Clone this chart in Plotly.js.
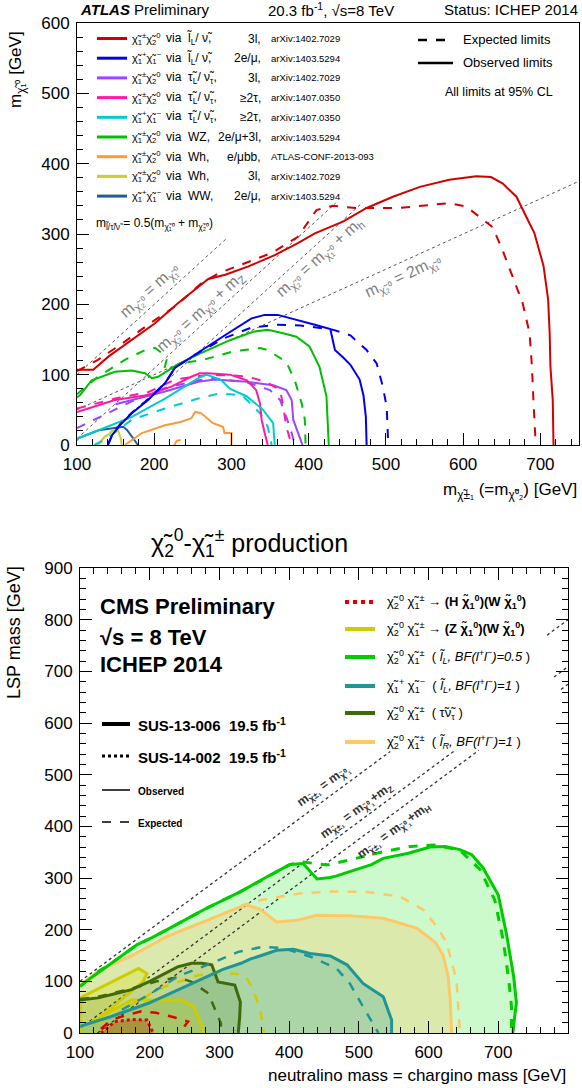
<!DOCTYPE html>
<html><head><meta charset="utf-8">
<script src="https://cdn.plot.ly/plotly-3.0.1.min.js"></script>
<style>body{margin:0;background:#fff}#plot{width:582px;height:1088px}</style>
</head><body><div id="plot"></div><script>
// ---------------- ATLAS data (GeV) ----------------
const atlas_red_obs_x = [100,121,141,171,201,231,257,270,292,322,356,386,408,445,475,509,544,582,617,636,651,669,686,692,704,710,712,713,716,717];
const atlas_red_obs_y = [107,107,126,149,173,202,225,236,242,254,270,287,301,318,337,353,367,377,382,381,372,353,315,302,255,207,160,112,64,0];
const atlas_red_exp_x = [100,127,162,192,227,261,283,317,352,386,400,410,431,461,518,582,604,621,638,651,664,677,686,689,691,693,694];
const atlas_red_exp_y = [105,121,147,171,197,230,244,258,273,296,318,334,340,337,337,344,339,325,310,277,239,202,159,112,64,20,0];
const atlas_blue_obs_x = [140,146,158,171,192,214,227,257,290,326,343,360,386,408,428,434,445,454,466,471,474,475];
const atlas_blue_obs_y = [0,15,31,45,64,88,110,132,155,180,185,185,178,171,165,135,124,114,93,70,40,0];
const atlas_blue_exp_x = [140,146,158,171,192,214,227,257,291,326,360,389,431,454,475,488,496,501,503];
const atlas_blue_exp_y = [0,16,32,46,65,88,110,131,152,167,171,170,164,156,135,116,83,54,0];
const atlas_green_obs_x = [100,104,119,149,171,188,197,205,222,233,259,298,328,347,367,384,401,414,423,426];
const atlas_green_obs_y = [68,71,92,104,106,102,95,97,109,116,130,149,161,164,159,154,140,111,69,0];
const atlas_green_exp_x = [100,104,127,162,188,201,211,216,213,222,233,263,302,337,347,371,382,391,395,396];
const atlas_green_exp_y = [72,76,97,121,135,138,130,121,108,106,116,121,133,138,135,118,92,59,36,0];
const atlas_pink_obs_x = [100,149,192,222,248,259,270,298,320,332,337,339,343,347];
const atlas_pink_obs_y = [47,64,71,83,97,102,102,100,92,78,59,36,17,0];
const atlas_pink_exp_x = [100,149,192,227,270,300,321,345,363,367,371,378];
const atlas_pink_exp_y = [52,66,75,93,100,99,97,90,78,55,26,0];
const atlas_purple_obs_x = [150,171,214,257,278,320,354,371,378,380,386,392];
const atlas_purple_obs_y = [58,64,76,90,93,90,85,78,64,36,17,0];
const atlas_purple_exp_x = [100,127,149,171,214,257,276,320,350,363,371,378,382];
const atlas_purple_exp_y = [24,38,50,62,81,92,95,89,78,64,40,17,0];
const atlas_cyan_obs_x = [100,102,128,171,214,257,268,287,298,320,341,354,356];
const atlas_cyan_obs_y = [7,10,21,40,66,95,100,92,80,69,50,31,0];
const atlas_cyan_exp_x = [122,136,171,214,257,283,298,313,320,337,347,352];
const atlas_cyan_exp_y = [0,7,36,52,66,73,72,71,64,45,26,0];
const atlas_orange_obs_x = [162,184,214,235,248,253,261,276,289,291,300,300];
const atlas_orange_obs_y = [0,17,28,33,38,47,45,31,26,17,17,0];
const atlas_orange_exp_x = [226,229,238,241];
const atlas_orange_exp_y = [0,6,8,3];
const atlas_yellow_obs_x = [127,136,142,147,153,156,158];
const atlas_yellow_obs_y = [0,12,16,21,21,12,0];
const atlas_ww_obs_x = [100,102,128,145,160,165,171,179];
const atlas_ww_obs_y = [7,10,21,24,26,21,12,0];
// kinematic lines: offset (GeV), slope factor, x-range
const atlas_diag_x0 = [100,100,125,100];
const atlas_diag_x1 = [295,435,470,750];
const atlas_diag_off = [0,91,125,0];
const atlas_diag_scale = [1,1,1,0.5];

const atlas_leg_proc = ['χ̃<sub>1</sub><sup>±</sup>χ̃<sub>2</sub><sup>0</sup>','χ̃<sub>1</sub><sup>+</sup>χ̃<sub>1</sub><sup>−</sup>','χ̃<sub>1</sub><sup>±</sup>χ̃<sub>2</sub><sup>0</sup>','χ̃<sub>1</sub><sup>±</sup>χ̃<sub>2</sub><sup>0</sup>','χ̃<sub>1</sub><sup>+</sup>χ̃<sub>1</sub><sup>−</sup>','χ̃<sub>1</sub><sup>±</sup>χ̃<sub>2</sub><sup>0</sup>','χ̃<sub>1</sub><sup>±</sup>χ̃<sub>2</sub><sup>0</sup>','χ̃<sub>1</sub><sup>±</sup>χ̃<sub>2</sub><sup>0</sup>','χ̃<sub>1</sub><sup>+</sup>χ̃<sub>1</sub><sup>−</sup>'];
const atlas_leg_via = ['via  l̃<sub>L</sub>/ ν̃,','via  l̃<sub>L</sub>/ ν̃,','via  τ̃<sub>L</sub>/ ν̃<sub>τ</sub>,','via  τ̃<sub>L</sub>/ ν̃<sub>τ</sub>,','via  τ̃<sub>L</sub>/ ν̃<sub>τ</sub>,','via  WZ,','via  Wh,','via  Wh,','via  WW,'];
const atlas_leg_final = ['3l,','2e/μ,','3l,','≥2τ,','≥2τ,','2e/μ+3l,','e/μbb,','3l,','2e/μ,'];
const atlas_leg_ref = ['arXiv:1402.7029','arXiv:1403.5294','arXiv:1402.7029','arXiv:1407.0350','arXiv:1407.0350','arXiv:1403.5294','ATLAS-CONF-2013-093','arXiv:1402.7029','arXiv:1403.5294'];
const atlas_colors = ['#d40000','#0000f0','#9b45ff','#ff1aa3','#00cccc','#00c000','#ff9933','#cccc33','#1f5f96'];

// ---------------- CMS data (GeV) ----------------
const cms_green_obs_x = [100,119,145,182,198,225,278,331,369,401,420,440,459,468,518,535,571,602,624,645,662,678,700,712,722,726,723,721];
const cms_green_obs_y = [90,110,135,171,181,200,239,274,303,326,328,298,301,304,326,338,348,360,361,355,345,320,267,190,110,58,26,0];
const cms_green_exp_x = [125,145,182,198,225,278,331,369,401,420,454,487,535,574,607,645,674,695,707,715,719,719];
const cms_green_exp_y = [118,135,171,181,200,239,274,303,326,331,325,335,351,361,364,354,316,257,180,103,51,0];
const cms_orange_obs_x = [100,129,172,225,284,337,358,382,411,440,487,535,583,610,621,628,631,633];
const cms_orange_obs_y = [93,122,148,187,219,248,240,215,218,228,227,222,203,175,150,110,64,0];
const cms_orange_exp_x = [100,129,172,225,284,337,358,416,460,511,559,593,615,626,640,645];
const cms_orange_exp_y = [93,122,148,187,219,249,257,270,274,273,264,238,200,174,103,0];
const cms_teal_obs_x = [100,145,199,252,305,331,344,358,382,406,430,459,483,506,535,547,547];
const cms_teal_obs_y = [13,32,58,90,123,135,143,149,160,162,154,149,132,96,70,25,0];
const cms_teal_exp_x = [160,200,241,294,327,363,392,430,468,487,506,528];
const cms_teal_exp_y = [45,75,110,138,157,167,164,148,125,96,51,0];
const cms_olive_obs_x = [100,126,150,174,200,222,240,260,275,289,294,298,322,330,329,327];
const cms_olive_obs_y = [64,68,76,84,100,115,128,135,135,132,115,99,93,60,30,0];
const cms_olive_exp_x = [100,126,174,210,240,260,284,294,302,303];
const cms_olive_exp_y = [66,70,86,100,108,99,77,45,19,0];
const cms_yellow_obs_x = [279,263,246,174,117,126,150,190,196,184,100,100];
const cms_yellow_obs_y = [0,51,64,64,22,28,54,99,115,125,68,0];
const cms_yellow_exp_x = [125,150,193,222,270,303,330,339,349,358,363,364];
const cms_yellow_exp_y = [18,35,70,90,112,116,114,106,83,45,12,0];
const cms_red_obs_x = [130,133,141,150,174,196,203,205];
const cms_red_obs_y = [0,3,12,22,26,25,6,0];
const cms_red_exp_x = [130,145,160,188,209,236,255,248,246];
const cms_red_exp_y = [8,25,32,42,39,30,22,10,0];
const cms_diag_off = [0,91,125];
const cms_diag_x0 = [100,100,125];
const cms_diag_x1 = [545,639,672];
const cms_diag_x2 = [770,780,790];

const cms_leg_text = [
 'χ̃<sub>2</sub><sup>0</sup> χ̃<sub>1</sub><sup>±</sup> <b>→ (H χ̃<sub>1</sub><sup>0</sup>)(W χ̃<sub>1</sub><sup>0</sup>)</b>',
 'χ̃<sub>2</sub><sup>0</sup> χ̃<sub>1</sub><sup>±</sup> <b>→ (Z χ̃<sub>1</sub><sup>0</sup>)(W χ̃<sub>1</sub><sup>0</sup>)</b>',
 'χ̃<sub>2</sub><sup>0</sup> χ̃<sub>1</sub><sup>±</sup>  ( <i>l̃<sub>L</sub>, BF(l<sup>+</sup>l<sup>−</sup>)=0.5</i> )',
 'χ̃<sub>1</sub><sup>+</sup> χ̃<sub>1</sub><sup>−</sup>  ( <i>l̃<sub>L</sub>, BF(l<sup>+</sup>l<sup>−</sup>)=1</i> )',
 'χ̃<sub>2</sub><sup>0</sup> χ̃<sub>1</sub><sup>±</sup>  ( τ̃ν̃<sub>τ</sub> )',
 'χ̃<sub>2</sub><sup>0</sup> χ̃<sub>1</sub><sup>±</sup>  ( <i>l̃<sub>R</sub>, BF(l<sup>+</sup>l<sup>−</sup>)=1</i> )'];
const cms_colors = {red:'#e00000', yellow:'#cccc00', green:'#00cc00', teal:'#1f9595', olive:'#3f6a0a', orange:'#ffc866'};

// ---------------- build ----------------
const W=582, H=1088, F='Liberation Sans, Arial, sans-serif';
const PX=v=>v/W, PY=v=>1-v/H;
const traces=[];
function line(x,y,color,width,dash,ax){
  traces.push({x:x,y:y,xaxis:ax[0],yaxis:ax[1],mode:'lines',line:{color:color,width:width,dash:dash||'solid'},hoverinfo:'skip',showlegend:false,cliponaxis:true});
}
function fillArea(x,y,color,ax){
  traces.push({x:x,y:y,xaxis:ax[0],yaxis:ax[1],mode:'none',fill:'tozeroy',fillcolor:color,hoverinfo:'skip',showlegend:false});
}
const A1=['x','y'], A2=['x2','y2'];
for(let i=0;i<atlas_diag_off.length;i++){
  const xs=[atlas_diag_x0[i],atlas_diag_x1[i]];
  line(xs, xs.map(v=>(v-atlas_diag_off[i])*atlas_diag_scale[i]), '#555', 1, 'dot', A1);
}
const C=atlas_colors;
line(atlas_ww_obs_x,atlas_ww_obs_y,C[8],2,'solid',A1);
line(atlas_yellow_obs_x,atlas_yellow_obs_y,C[7],2,'solid',A1);
line(atlas_orange_exp_x,atlas_orange_exp_y,C[6],2,'dash',A1);
line(atlas_orange_obs_x,atlas_orange_obs_y,C[6],2,'solid',A1);
line(atlas_cyan_exp_x,atlas_cyan_exp_y,C[4],2,'dash',A1);
line(atlas_purple_exp_x,atlas_purple_exp_y,C[2],2,'dash',A1);
line(atlas_purple_obs_x,atlas_purple_obs_y,C[2],2,'solid',A1);
line(atlas_pink_exp_x,atlas_pink_exp_y,C[3],2,'dash',A1);
line(atlas_pink_obs_x,atlas_pink_obs_y,C[3],2,'solid',A1);
line(atlas_cyan_obs_x,atlas_cyan_obs_y,C[4],2,'solid',A1);
line(atlas_green_exp_x,atlas_green_exp_y,C[5],2,'dash',A1);
line(atlas_green_obs_x,atlas_green_obs_y,C[5],2,'solid',A1);
line(atlas_blue_exp_x,atlas_blue_exp_y,C[1],2,'dash',A1);
line(atlas_blue_obs_x,atlas_blue_obs_y,C[1],2,'solid',A1);
line(atlas_red_exp_x,atlas_red_exp_y,C[0],2,'dash',A1);
line(atlas_red_obs_x,atlas_red_obs_y,C[0],2,'solid',A1);

fillArea(cms_green_obs_x,cms_green_obs_y,'rgba(0,230,0,0.20)',A2);
fillArea(cms_orange_obs_x,cms_orange_obs_y,'rgba(255,200,100,0.30)',A2);
fillArea(cms_teal_obs_x,cms_teal_obs_y,'rgba(30,150,150,0.25)',A2);
fillArea(cms_yellow_obs_x,cms_yellow_obs_y,'rgba(220,220,0,0.25)',A2);
fillArea(cms_olive_obs_x,cms_olive_obs_y,'rgba(60,110,0,0.15)',A2);
fillArea(cms_red_obs_x,cms_red_obs_y,'rgba(170,130,50,0.75)',A2);
for(let i=0;i<cms_diag_off.length;i++){
  const xs=[cms_diag_x0[i],cms_diag_x1[i],null,cms_diag_x2[i],800];
  line(xs, xs.map(v=>v===null?null:v-cms_diag_off[i]), '#333', 1.3, 'dot', A2);
}
const K=cms_colors;
line(cms_red_exp_x,cms_red_exp_y,K.red,2.5,'dash',A2);
line(cms_red_obs_x,cms_red_obs_y,K.red,3,'dot',A2);
line(cms_yellow_exp_x,cms_yellow_exp_y,K.yellow,2.5,'dash',A2);
line(cms_yellow_obs_x,cms_yellow_obs_y,K.yellow,3,'solid',A2);
line(cms_olive_exp_x,cms_olive_exp_y,K.olive,2.5,'dash',A2);
line(cms_olive_obs_x,cms_olive_obs_y,K.olive,3,'solid',A2);
line(cms_teal_exp_x,cms_teal_exp_y,K.teal,2.5,'dash',A2);
line(cms_teal_obs_x,cms_teal_obs_y,K.teal,3,'solid',A2);
line(cms_orange_exp_x,cms_orange_exp_y,K.orange,2.5,'dash',A2);
line(cms_orange_obs_x,cms_orange_obs_y,K.orange,3,'solid',A2);
line(cms_green_exp_x,cms_green_exp_y,K.green,3,'dash',A2);
line(cms_green_obs_x,cms_green_obs_y,K.green,3,'solid',A2);

// ---------------- annotations & shapes ----------------
const ann=[], shp=[];
function T(x,y,text,o){o=o||{};ann.push(Object.assign({xref:'paper',yref:'paper',x:PX(x),y:PY(y),text:text,showarrow:false,xanchor:'left',yanchor:'middle',font:{family:F,size:12,color:'#000'}},o));}
function L(x0,x1,y,color,width,dash){shp.push({type:'line',xref:'paper',yref:'paper',x0:PX(x0),x1:PX(x1),y0:PY(y),y1:PY(y),line:{color:color,width:width,dash:dash||'solid'}});}
T(78,9,'<b><i>ATLAS</i></b> Preliminary',{font:{family:F,size:15,color:'#000'}});
T(331,9,'20.3 fb<sup>-1</sup>, √s=8 TeV',{xanchor:'center',font:{family:F,size:15,color:'#000'}});
T(580,9,'Status: ICHEP 2014',{xanchor:'right',font:{family:F,size:15,color:'#000'}});
T(17,70,'m<sub>χ̃₁⁰</sub> [GeV]',{xanchor:'center',textangle:-90,font:{family:F,size:17,color:'#000'}});
T(579,491,'m<sub>χ̃±₁</sub> (=m<sub>χ̃⁰₂</sub>) [GeV]',{xanchor:'right',font:{family:F,size:17,color:'#000'}});
for(let i=0;i<9;i++){
  const yy=38.5+i*19.7;
  L(97,127,yy,atlas_colors[i],3);
  T(130,yy,atlas_leg_proc[i],{font:{family:F,size:11,color:'#000'}});
  T(164,yy,atlas_leg_via[i],{font:{family:F,size:12,color:'#000'}});
  T(263,yy,atlas_leg_final[i],{xanchor:'right',font:{family:F,size:12,color:'#000'}});
  T(269,yy,atlas_leg_ref[i],{font:{family:F,size:9.5,color:'#000'}});
}
L(418,453,40,'#000',2.5,'dash'); T(461,40,'Expected limits',{font:{family:F,size:13,color:'#000'}});
L(418,453,63,'#000',2.5); T(461,63,'Observed limits',{font:{family:F,size:13,color:'#000'}});
T(499,92,'All limits at 95% CL',{xanchor:'center',font:{family:F,size:12.5,color:'#000'}});
T(94,224,'m<sub>l̃/τ̃/ν̃</sub> = 0.5(m<sub>χ̃₁⁰</sub> + m<sub>χ̃₂⁰</sub>)',{font:{family:F,size:12,color:'#000'}});
const G={family:F,size:16,color:'#808080'};
T(150,290,'m<sub>χ̃₂⁰</sub> = m<sub>χ̃₁⁰</sub>',{xanchor:'center',textangle:-42,font:G});
T(200,312,'m<sub>χ̃₂⁰</sub> = m<sub>χ̃₁⁰</sub> + m<sub>Z</sub>',{xanchor:'center',textangle:-42,font:G});
T(320,258,'m<sub>χ̃₂⁰</sub> = m<sub>χ̃₁⁰</sub> + m<sub>h</sub>',{xanchor:'center',textangle:-42,font:G});
T(403,276,'m<sub>χ̃₂⁰</sub> = 2m<sub>χ̃₁⁰</sub>',{xanchor:'center',textangle:-25,font:G});

T(250,543,'χ̃<sub>2</sub><sup>0</sup>-χ̃<sub>1</sub><sup>±</sup> production',{xanchor:'center',font:{family:F,size:25,color:'#000'}});
T(14,633,'LSP mass [GeV]',{xanchor:'center',textangle:-90,font:{family:F,size:18,color:'#000'}});
T(568,1075,'neutralino mass = chargino mass [GeV]',{xanchor:'right',font:{family:F,size:17,color:'#000'}});
T(98,606,'<b>CMS Preliminary</b>',{font:{family:F,size:22,color:'#000'}});
T(98,637,'<b>√s = 8 TeV</b>',{font:{family:F,size:22,color:'#000'}});
T(98,664,'<b>ICHEP 2014</b>',{font:{family:F,size:22,color:'#000'}});
L(102,130,724,'#000',4); T(136,724,'<b>SUS-13-006  19.5 fb<sup>-1</sup></b>',{font:{family:F,size:15,color:'#000'}});
L(102,130,756,'#000',3,'dot'); T(136,756,'<b>SUS-14-002  19.5 fb<sup>-1</sup></b>',{font:{family:F,size:15,color:'#000'}});
L(102,130,790,'#000',1.5); T(136,791,'<b>Observed</b>',{font:{family:F,size:10,color:'#000'}});
L(102,130,822,'#000',1.5,'dash'); T(136,823,'<b>Expected</b>',{font:{family:F,size:10,color:'#000'}});
const cmsLegCol=[K.red,K.yellow,K.green,K.teal,K.olive,K.orange];
const cmsLegY=[602,629,657,686,713,742];
for(let i=0;i<6;i++){
  L(345,375,cmsLegY[i],cmsLegCol[i],4,i===0?'dot':'solid');
  T(385,cmsLegY[i],cms_leg_text[i],{font:{family:F,size:13,color:'#000'}});
}
const GD={family:F,size:12.5,color:'#333'};
T(324,786,'<b>m<sub>χ̃±₁</sub> = m<sub>χ̃⁰₁</sub></b>',{xanchor:'center',textangle:-36,font:GD});
T(357,811,'<b>m<sub>χ̃±₁</sub> = m<sub>χ̃⁰₁</sub>+m<sub>Z</sub></b>',{xanchor:'center',textangle:-36,font:GD});
T(394,831,'<b>m<sub>χ̃±₁</sub> = m<sub>χ̃⁰₁</sub>+m<sub>H</sub></b>',{xanchor:'center',textangle:-36,font:GD});

const tf={family:F,size:17,color:'#000'};
function axis(extra){return Object.assign({ticks:'inside',ticklen:12,tickwidth:1,tickcolor:'#000',showline:true,linecolor:'#000',linewidth:1,showgrid:false,zeroline:false,tickfont:tf,fixedrange:true},extra);}
const layout={
  width:W,height:H,margin:{l:0,r:0,t:0,b:0},paper_bgcolor:'#fff',plot_bgcolor:'#fff',showlegend:false,
  xaxis:axis({domain:[PX(77),PX(579)],range:[100,750],anchor:'y',tick0:100,dtick:100,mirror:true,ticklabelstandoff:4,minor:{tick0:100,dtick:20,ticks:'inside',ticklen:6,tickcolor:'#000'}}),
  yaxis:axis({domain:[PY(445),PY(23)],range:[0,600],anchor:'x',tick0:0,dtick:100,mirror:true,ticklabelstandoff:3,minor:{tick0:0,dtick:20,ticks:'inside',ticklen:6,tickcolor:'#000'}}),
  xaxis2:axis({domain:[PX(80),PX(568)],range:[100,800],anchor:'y2',tick0:100,dtick:100,mirror:'allticks',ticklabelstandoff:4,minor:{tick0:100,dtick:20,ticks:'inside',ticklen:6,tickcolor:'#000'}}),
  yaxis2:axis({domain:[PY(1033),PY(568)],range:[0,900],anchor:'x2',tick0:0,dtick:100,mirror:'allticks',ticklabelstandoff:3,minor:{tick0:0,dtick:20,ticks:'inside',ticklen:6,tickcolor:'#000'}}),
  annotations:ann,shapes:shp
};
Plotly.newPlot('plot',traces,layout,{staticPlot:true,displayModeBar:false});
</script></body></html>
